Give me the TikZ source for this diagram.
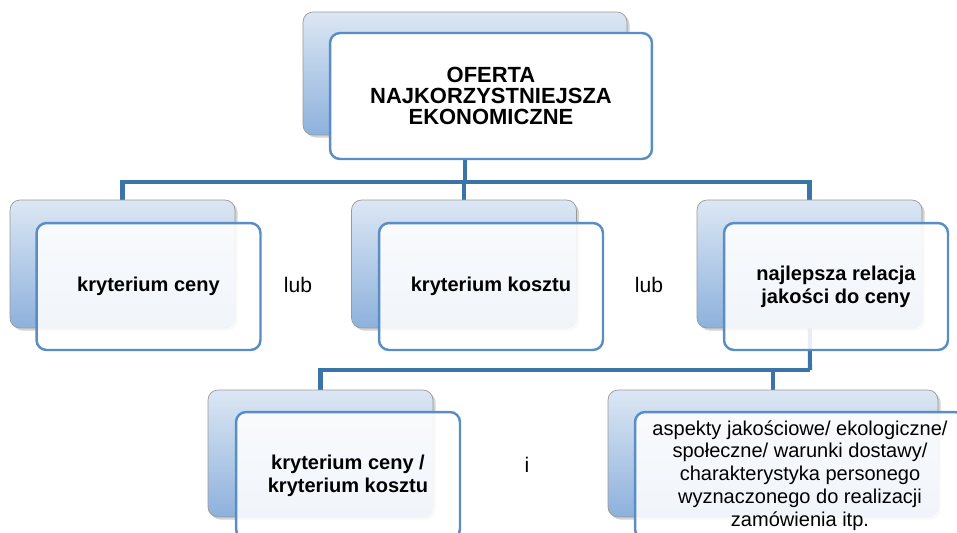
\documentclass[tikz,border=0pt]{standalone}
\usepackage{fontspec}
\setmainfont{Liberation Sans}
\usetikzlibrary{shadows,backgrounds}
\definecolor{lineblue}{HTML}{3B74A8}
\definecolor{frameblue}{HTML}{5A8DC5}
\definecolor{topblue}{HTML}{DCE7F4}
\definecolor{botblue}{HTML}{8DB1DC}
\begin{document}
\begin{tikzpicture}[x=0.02cm, y=-0.02cm,
		bk/.style = {rectangle, rounded corners=0.2cm, draw=gray!80, top color=topblue, bottom color=botblue, drop shadow={shadow xshift=1.5pt, shadow yshift=-1.5pt, opacity=0.35}, inner sep=0pt},
		fr/.style = {rectangle, rounded corners=0.2cm, draw=frameblue, line width=1.4pt, fill=white, fill opacity=0.88, text opacity=1, inner sep=0pt, align=center, font=\bfseries\fontsize{11.4}{13}\selectfont},
		ln/.style = {draw=lineblue, line width=2.3pt},
		lbl/.style = {font=\fontsize{12}{14}\selectfont}
		]
		\useasboundingbox (0,0) rectangle (957,532);
		
		%Nodes
		\node[bk, minimum width=6.48cm, minimum height=2.46cm]	(topb)	at	(465, 73.5)	{};
		\node[fr, minimum width=6.44cm, minimum height=2.52cm, fill opacity=1, font=\bfseries\fontsize{12.5}{12}\selectfont]	(top)	at	(491, 96)	{OFERTA\\NAJKORZYSTNIEJSZA\\EKONOMICZNE};
		
		\node[bk, minimum width=4.5cm, minimum height=2.56cm]	(cenab)	at	(122.5, 264)	{};
		\node[fr, minimum width=4.48cm, minimum height=2.54cm]	(cena)	at	(148.5, 286.5)	{kryterium ceny};
		\node[bk, minimum width=4.5cm, minimum height=2.56cm]	(kosb)	at	(464, 264)	{};
		\node[fr, minimum width=4.48cm, minimum height=2.54cm]	(kos)	at	(491, 286.5)	{kryterium kosztu};
		\node[bk, minimum width=4.5cm, minimum height=2.56cm]	(relb)	at	(809.5, 264)	{};
		\node[fr, minimum width=4.48cm, minimum height=2.54cm]	(rel)	at	(836, 286.5)	{najlepsza relacja\\jakości do ceny};
		
		\node[bk, minimum width=4.5cm, minimum height=2.54cm]	(obab)	at	(320.5, 453.5)	{};
		\node[fr, minimum width=4.48cm, minimum height=2.54cm]	(oba)	at	(348, 475.5)	{kryterium ceny /\\kryterium kosztu};
		\node[bk, minimum width=6.6cm, minimum height=2.54cm]	(aspb)	at	(773, 453.5)	{};
		\node[fr, minimum width=6.6cm, minimum height=2.54cm, font=\fontsize{11.4}{13}\selectfont]	(asp)	at	(800, 475.5)	{aspekty jakościowe/ ekologiczne/\\społeczne/ warunki dostawy/\\charakterystyka personego\\wyznaczonego do realizacji\\zamówienia itp.};
		
		\node[lbl]	(lub1)	at	(298, 285)	{lub};
		\node[lbl]	(lub2)	at	(649, 285)	{lub};
		\node[lbl]	(i)		at	(527, 465)	{i};
		
		%Lines
		\coordinate (bus1) at (465, 182);
		\coordinate (bus2) at (810, 370);
		\begin{scope}[on background layer]
		\draw[ln]	(topb.center)	--	(bus1);
		\draw[ln]	(bus1)	-|	(cenab.north);
		\draw[ln]	(bus1)	-|	(kosb.north);
		\draw[ln]	(bus1)	-|	(relb.north);
		\draw[ln]	(relb.center)	--	(bus2);
		\draw[ln]	(bus2)	-|	(obab.north);
		\draw[ln]	(aspb.north |- bus2)	--	(aspb.north);
		\end{scope}
	\end{tikzpicture}
\end{document}
